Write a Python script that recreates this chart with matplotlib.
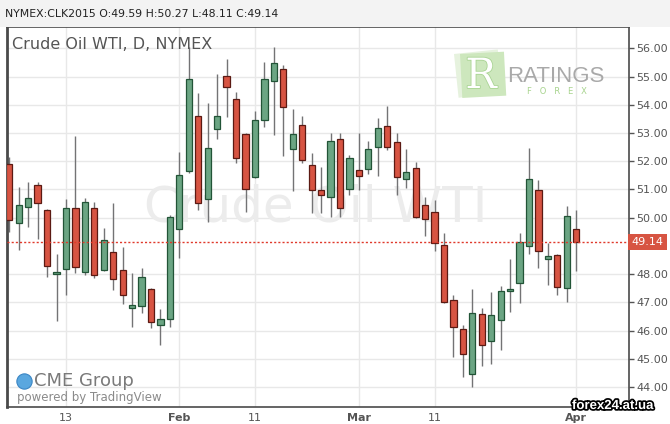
import numpy as np
import matplotlib
matplotlib.use("Agg")
from matplotlib import pyplot as plt
from matplotlib import patheffects
from matplotlib.patches import Rectangle

# NYMEX:CLK2015 daily bars, 5 Jan .. 1 Apr 2015
opens = [51.90, 49.80, 50.39, 51.17, 50.26, 48.00, 48.17, 50.33, 48.06, 50.33,
         48.15, 48.78, 48.15, 46.80, 46.87, 47.47, 46.20, 46.40, 49.59, 51.67,
         53.62, 50.65, 53.15, 55.04, 54.22, 52.98, 51.43, 53.45, 54.86, 55.26,
         52.43, 53.28, 51.87, 50.97, 50.73, 52.78, 51.01, 51.69, 51.72, 52.52,
         53.25, 52.67, 51.37, 51.77, 50.46, 50.19, 49.02, 47.07, 46.04, 44.45,
         46.58, 45.63, 46.36, 47.41, 47.67, 49.00, 50.97, 48.52, 48.68, 47.51, 49.59]
highs = [52.16, 51.08, 51.28, 51.28, 50.30, 48.70, 50.67, 52.90, 50.71, 50.57,
         49.64, 50.53, 48.97, 48.03, 48.21, 47.52, 46.75, 50.10, 52.34, 56.06,
         54.41, 54.08, 55.09, 55.62, 54.47, 53.00, 53.79, 55.51, 56.06, 55.42,
         53.84, 53.61, 52.28, 51.81, 52.99, 52.99, 52.22, 52.99, 52.72, 53.52,
         53.96, 52.99, 52.43, 51.99, 50.75, 50.63, 49.45, 47.26, 46.20, 47.46,
         46.79, 47.38, 47.58, 48.53, 49.45, 52.46, 51.34, 49.11, 48.70, 50.42, 50.27]
lows = [49.50, 48.85, 49.68, 49.23, 47.91, 46.35, 47.26, 48.03, 47.97, 47.87,
        48.12, 47.44, 46.94, 46.13, 46.61, 46.08, 45.49, 46.13, 48.56, 51.60,
        50.27, 49.85, 52.79, 53.58, 51.95, 50.21, 51.40, 53.23, 52.93, 52.19,
        50.96, 51.95, 50.15, 50.17, 50.04, 50.04, 50.79, 50.98, 51.54, 51.49,
        52.40, 50.81, 51.04, 49.98, 49.35, 48.83, 46.98, 45.05, 44.34, 44.01,
        44.75, 44.81, 45.31, 46.67, 46.97, 48.71, 48.21, 47.61, 47.26, 47.02, 48.11]
closes = [49.92, 50.44, 50.71, 50.51, 48.30, 48.03, 50.33, 48.24, 50.57, 47.98,
          49.20, 47.82, 47.27, 46.89, 47.91, 46.29, 46.40, 50.04, 51.50, 54.91,
          50.53, 52.48, 53.62, 54.65, 52.11, 51.03, 53.45, 54.93, 55.48, 53.92,
          52.96, 52.04, 50.97, 50.79, 52.72, 50.33, 52.11, 51.48, 52.45, 53.18,
          52.52, 51.43, 51.61, 50.01, 49.95, 49.09, 47.00, 46.11, 45.17, 46.61,
          45.50, 46.54, 47.41, 47.48, 49.15, 51.36, 48.82, 48.65, 47.54, 50.06, 49.14]

date_ticks = [6, 18, 26, 37, 45, 60]
date_labels = ["13", "Feb", "11", "Mar", "11", "Apr"]
months = ["Feb", "Mar", "Apr"]
# 49.00 is covered by the last-price marker on the original
price_ticks = [44, 45, 46, 47, 48, 50, 51, 52, 53, 54, 55, 56]
last_price = 49.14
header = "NYMEX:CLK2015 O:49.59 H:50.27 L:48.11 C:49.14"

UP, UP_EDGE = "#6ba583", "#225437"
DOWN, DOWN_EDGE = "#d75442", "#5b1a13"
WICK = "#737375"
GRID = "#e8e8e8"
TXT = "#555555"

W, H = 670, 424
fig = plt.figure(figsize=(W / 100, H / 100), dpi=100, facecolor="white")
ax = fig.add_axes([7 / W, 1 - 407 / H, (629 - 7) / W, (407 - 27) / H])

o = np.array(opens)
c = np.array(closes)
x = np.arange(len(o))
up = c >= o
bottom = np.minimum(o, c)
height = np.maximum(np.abs(c - o), 0.08)

ax.vlines(x, lows, highs, color=WICK, lw=1, zorder=2)
ax.bar(x, height, bottom=bottom, width=0.66,
       color=np.where(up, UP, DOWN), edgecolor=np.where(up, UP_EDGE, DOWN_EDGE),
       linewidth=0.9, zorder=3)

ax.set_xlim(-0.24, 65.58)
ax.set_ylim(43.29, 56.76)

# grid + axes
ax.set_yticks(price_ticks)
ax.set_yticklabels([f"{p:.2f}" for p in price_ticks])
ax.yaxis.tick_right()
ax.set_xticks(date_ticks)
ax.set_xticklabels(date_labels)
for lab in ax.get_xticklabels():
    if lab.get_text() in months:
        lab.set_fontweight("bold")
ax.tick_params(axis="y", direction="out", length=3.5, width=1, color="#555",
               labelsize=8, labelcolor=TXT, pad=1.5)
ax.tick_params(axis="x", length=0, labelsize=8, labelcolor=TXT, pad=4)
ax.grid(True, color=GRID, lw=1, zorder=0)
ax.set_axisbelow(True)
for side in ["left", "top", "right", "bottom"]:
    ax.spines[side].set_color("#4a4a4a")
    ax.spines[side].set_linewidth(1.2)
ax.spines["left"].set_linewidth(2)

# last price line + label
ax.axhline(last_price, color="#e0392b", lw=1, ls=(0, (1.5, 1.5)), zorder=4)
ax.text(1.004, last_price, f"{last_price:.2f}", transform=ax.get_yaxis_transform(),
        ha="left", va="center", fontsize=8, color="white", clip_on=False, zorder=6,
        bbox=dict(boxstyle="square,pad=0.3", fc=DOWN, ec="none"))

# watermark + title
ax.text(0.497, 0.524, "Crude Oil WTI", transform=ax.transAxes, ha="center", va="center",
        fontsize=36, color="#ececec", zorder=1)
ax.text(0.008, 0.955, "Crude Oil WTI, D, NYMEX", transform=ax.transAxes,
        ha="left", va="center", fontsize=11.5, color=TXT, zorder=5)

# overlay in pixel coords for the decorations
ov = fig.add_axes([0, 0, 1, 1], zorder=10)
ov.set_xlim(0, W)
ov.set_ylim(H, 0)
ov.axis("off")
ov.patch.set_alpha(0)

ov.add_patch(Rectangle((0, 0), W, 27, fc="#f3f3f3", ec="none"))
ov.text(5, 14, header, fontsize=7.8, color="#222", va="center", ha="left")

# CME logo
ov.plot(24, 381, "o", ms=11, color="#5aa7df", mec="#3b86c4", mew=0.8)
ov.text(34, 381, "CME Group", fontsize=13, color="#7a7a7a", va="center", ha="left")
ov.text(17, 398, "powered by TradingView", fontsize=8.5, color="#8a8a8a",
        va="center", ha="left")

# RatingsForex logo
ov.add_patch(Rectangle((454, 54), 44, 44, angle=-6, fc="#e6f2de", ec="none"))
ov.add_patch(Rectangle((460, 54), 44, 44, angle=-3, fc="#cde7bd", ec="none"))
ov.text(481, 76, "R", fontsize=30, family="DejaVu Serif", color="white",
        ha="center", va="center",
        path_effects=[patheffects.withStroke(linewidth=1.2, foreground="#a9d493")])
ov.text(507, 77, "RATINGS", fontsize=16, family="Liberation Sans", color="#a9a9a9",
        ha="left", va="center")
ov.text(557, 92, "F   O   R   E   X", fontsize=6, color="#a8d48e", ha="center",
        va="center")

# site watermark
ov.text(613, 406, "forex24.at.ua", fontsize=9.5, family="Liberation Sans",
        fontweight="bold", color="white", ha="center", va="center",
        path_effects=[patheffects.withStroke(linewidth=2.5, foreground="black")])

fig.savefig("out.png", dpi=100)
